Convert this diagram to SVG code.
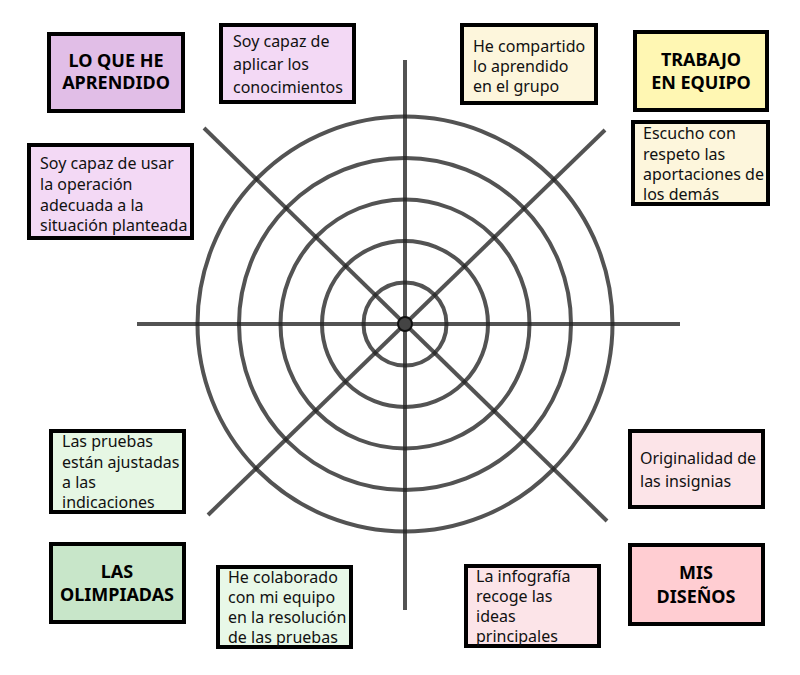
<svg xmlns="http://www.w3.org/2000/svg" width="800" height="675" viewBox="0 0 800 675">
<style>
.box{stroke:#000;stroke-width:4}
.t{font-family:"Noto Sans","DejaVu Sans",sans-serif;font-size:16px;fill:#111}
.h{font-family:"Noto Sans","DejaVu Sans",sans-serif;font-size:18px;font-weight:bold;fill:#000;text-anchor:middle}
.web{fill:none;stroke:#222;stroke-opacity:0.78;stroke-width:4}
</style>
<rect width="800" height="675" fill="#fff"/>
<g id="connectors" class="web">
<line x1="137" y1="324" x2="680" y2="324"/>
<line x1="405" y1="60" x2="405" y2="610"/>
<line x1="204" y1="128" x2="607" y2="521"/>
<line x1="605" y1="130" x2="208" y2="515"/>
<circle cx="405" cy="324" r="41.5"/>
<circle cx="405" cy="324" r="83"/>
<circle cx="405" cy="324" r="124.5"/>
<circle cx="405" cy="324" r="166"/>
<circle cx="405" cy="324" r="207.5"/>
</g>
<g id="center"><circle cx="405" cy="324" r="7" fill="#444" stroke="#111" stroke-width="2"/></g>
<g id="lo-que-he-aprendido">
<rect class="box" x="49" y="34" width="134" height="77" fill="#e1bee7"/>
<text class="h" x="116" y="67">LO QUE HE</text>
<text class="h" x="116" y="89">APRENDIDO</text>
</g>
<g id="aplicar">
<rect class="box" x="221" y="25" width="133" height="77" fill="#f3d9f5"/>
<text class="t" x="233" y="47">Soy capaz de</text>
<text class="t" x="233" y="70">aplicar los</text>
<text class="t" x="233" y="93">conocimientos</text>
</g>
<g id="operacion">
<rect class="box" x="29" y="145" width="163" height="93" fill="#f3d9f5"/>
<text class="t" x="40" y="169">Soy capaz de usar</text>
<text class="t" x="40" y="190">la operación</text>
<text class="t" x="40" y="211">adecuada a la</text>
<text class="t" x="40" y="231">situación planteada</text>
</g>
<g id="compartido">
<rect class="box" x="462" y="25" width="134" height="78" fill="#fdf6dc"/>
<text class="t" x="473" y="52">He compartido</text>
<text class="t" x="473" y="72">lo aprendido</text>
<text class="t" x="473" y="92">en el grupo</text>
</g>
<g id="trabajo-en-equipo">
<rect class="box" x="635" y="32" width="132" height="78" fill="#fff7b3"/>
<text class="h" x="701" y="66">TRABAJO</text>
<text class="h" x="701" y="89">EN EQUIPO</text>
</g>
<g id="escucho">
<rect class="box" x="633" y="122" width="135" height="82" fill="#fdf6dc"/>
<text class="t" x="643" y="139">Escucho con</text>
<text class="t" x="643" y="160">respeto las</text>
<text class="t" x="643" y="180">aportaciones de</text>
<text class="t" x="643" y="200">los  demás</text>
</g>
<g id="pruebas">
<rect class="box" x="51" y="431" width="133" height="81" fill="#e6f7e4"/>
<text class="t" x="62" y="447">Las pruebas</text>
<text class="t" x="62" y="468">están ajustadas</text>
<text class="t" x="62" y="488">a las</text>
<text class="t" x="62" y="508">indicaciones</text>
</g>
<g id="las-olimpiadas">
<rect class="box" x="51" y="544" width="133" height="78" fill="#c8e6c9"/>
<text class="h" x="117" y="578">LAS</text>
<text class="h" x="117" y="601">OLIMPIADAS</text>
</g>
<g id="colaborado">
<rect class="box" x="218" y="567" width="133" height="80" fill="#e8f8e8"/>
<text class="t" x="228" y="583">He colaborado</text>
<text class="t" x="228" y="603">con mi equipo</text>
<text class="t" x="228" y="623">en la resolución</text>
<text class="t" x="228" y="643">de las pruebas</text>
</g>
<g id="originalidad">
<rect class="box" x="630" y="431" width="133" height="76" fill="#fce4e8"/>
<text class="t" x="640" y="464">Originalidad de</text>
<text class="t" x="640" y="487">las insignias</text>
</g>
<g id="infografia">
<rect class="box" x="466" y="566" width="133" height="80" fill="#fce4e8"/>
<text class="t" x="476" y="582">La infografía</text>
<text class="t" x="476" y="602">recoge las</text>
<text class="t" x="476" y="622">ideas</text>
<text class="t" x="476" y="642">principales</text>
</g>
<g id="mis-disenos">
<rect class="box" x="630" y="545" width="133" height="79" fill="#ffcdd2"/>
<text class="h" x="696" y="579">MIS</text>
<text class="h" x="696" y="603">DISEÑOS</text>
</g>
</svg>
